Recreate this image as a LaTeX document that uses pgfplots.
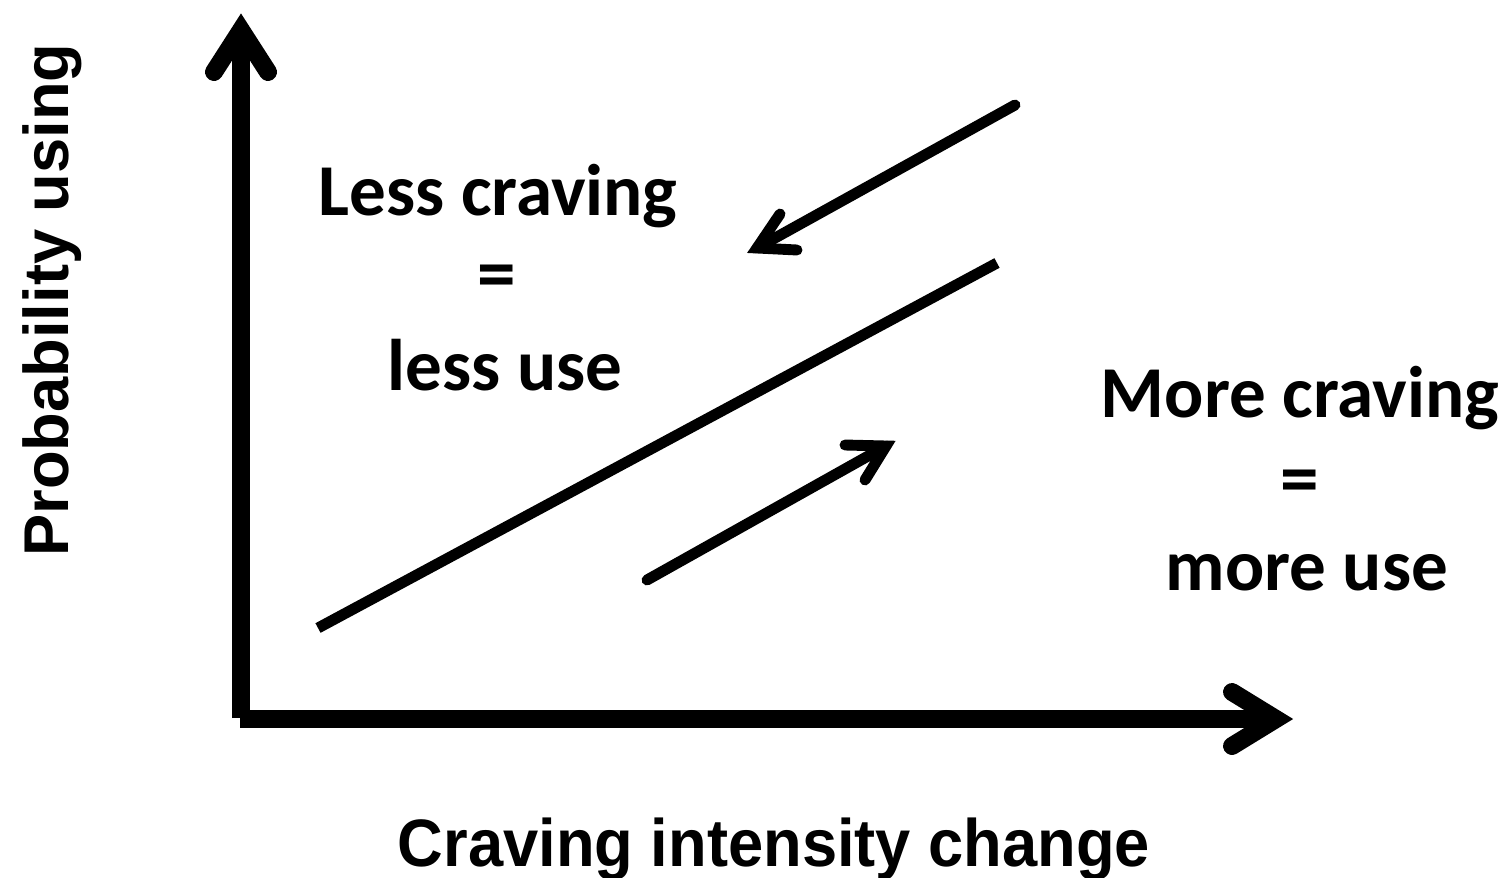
\documentclass[border=0pt]{standalone}
\usepackage{pgfplots}
\pgfplotsset{compat=1.18}
\usepackage{fontspec}
\setmainfont{Liberation Sans}
\newfontfamily\calfont{Carlito}
\begin{document}
\begin{tikzpicture}
\begin{axis}[scale only axis, width=15.1cm, height=8.77cm,
  xmin=0, xmax=1510, ymin=0, ymax=877, y dir=reverse,
  hide axis, clip=false]
\addplot[draw=none, forget plot] coordinates {(0,0) (1510,877)};
% vertical axis
\addplot[line width=5.1pt, line cap=butt] coordinates {(241,718) (241,40)};
\addplot[line width=5.1pt, line cap=round, line join=miter, miter limit=10] coordinates {(214,72) (241,30) (268,72)};
% horizontal axis
\addplot[line width=5.1pt, line cap=butt] coordinates {(240,719) (1270,719)};
\addplot[line width=5.1pt, line cap=round, line join=miter, miter limit=10] coordinates {(1232,692) (1276,719) (1232,746)};
% main line
\addplot[line width=3.1pt, line cap=butt] coordinates {(318,628) (997,263)};
% down-left arrow
\addplot[line width=3.1pt, line cap=round, line join=miter] coordinates {(1015,105) (757,248)};
\addplot[line width=3.1pt, line cap=round, line join=miter, miter limit=10] coordinates {(780,214) (757,248) (797,250)};
% up-right arrow
\addplot[line width=3.1pt, line cap=round, line join=miter] coordinates {(647,580) (886,446)};
\addplot[line width=3.1pt, line cap=round, line join=miter, miter limit=10] coordinates {(845,445) (886,446) (865,480)};
% texts
\node[anchor=base, inner sep=0pt, font=\calfont\bfseries\fontsize{20.8pt}{24pt}\selectfont] at (axis cs:498,215) {Less craving};
\node[anchor=center, inner sep=0pt, font=\calfont\bfseries\fontsize{22pt}{24pt}\selectfont] at (axis cs:497,282) {=};
\node[anchor=base, inner sep=0pt, font=\calfont\bfseries\fontsize{20.8pt}{24pt}\selectfont] at (axis cs:505,390) {less use};
\node[anchor=base, inner sep=0pt, font=\calfont\bfseries\fontsize{20.8pt}{24pt}\selectfont] at (axis cs:1300,417) {More craving};
\node[anchor=center, inner sep=0pt, font=\calfont\bfseries\fontsize{22pt}{24pt}\selectfont] at (axis cs:1300,487) {=};
\node[anchor=base, inner sep=0pt, font=\calfont\bfseries\fontsize{20.8pt}{24pt}\selectfont] at (axis cs:1307,590) {more use};
\node[anchor=base, inner sep=0pt, yscale=1.06, font=\bfseries\fontsize{18pt}{22pt}\selectfont] at (axis cs:774,866) {Craving intensity change};
\node[anchor=base, inner sep=0pt, rotate=90, font=\bfseries\fontsize{18pt}{22pt}\selectfont] at (axis cs:68,300) {Probability using};
\end{axis}
\pgfresetboundingbox
\path (current axis.south west) rectangle (current axis.north east);
\end{tikzpicture}
\end{document}
